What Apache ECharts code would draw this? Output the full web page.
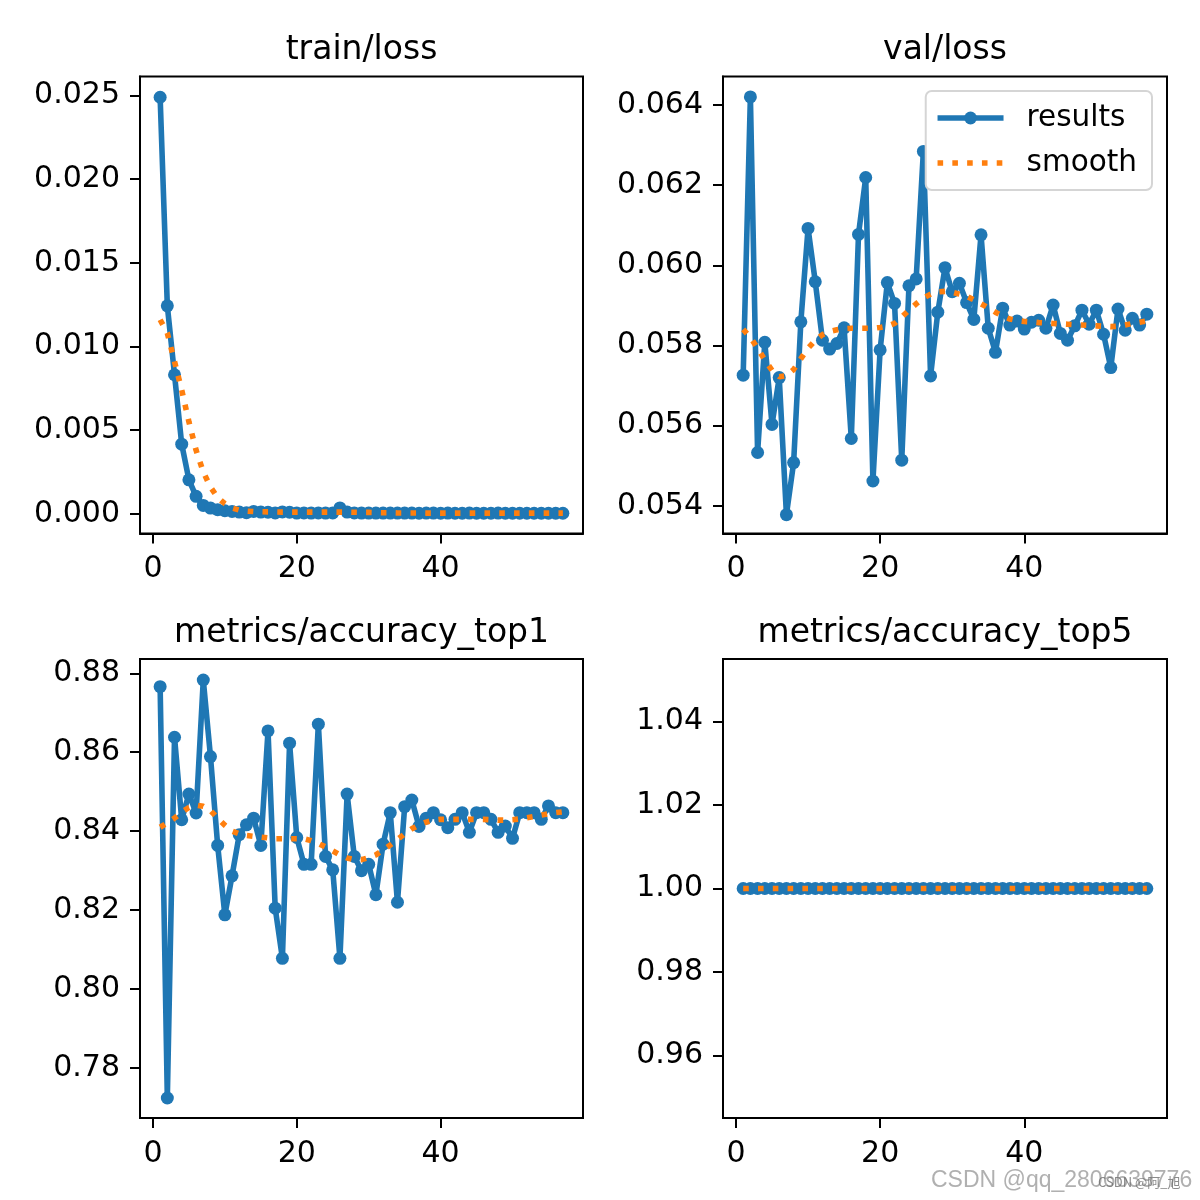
<!DOCTYPE html>
<html>
<head>
<meta charset="utf-8">
<script src="https://cdn.jsdelivr.net/npm/echarts@6/dist/echarts.min.js"></script>
<style>
html,body{margin:0;padding:0;background:#fff;}
#chart{width:1200px;height:1200px;}
</style>
</head>
<body>
<div id="chart"></div>
<script>
// ---------- data ----------
const epochs = [1,2,3,4,5,6,7,8,9,10,11,12,13,14,15,16,17,18,19,20,21,22,23,24,25,26,27,28,29,30,31,32,33,34,35,36,37,38,39,40,41,42,43,44,45,46,47,48,49,50,51,52,53,54,55,56,57];

const trainLoss = [0.0249,0.01243,0.00831,0.00416,0.00203,0.00104,0.0005,0.00034,0.00024,0.00018,0.00014,0.0001,0.00006,0.00014,0.0001,0.00009,0.00005,0.00011,0.00009,0.00004,0.00005,0.00004,0.00005,0.00004,0.00005,0.00035,0.0001,0.00005,0.00004,0.00004,0.00004,0.00004,0.00004,0.00004,0.00004,0.00004,0.00003,0.00004,0.00004,0.00003,0.00004,0.00003,0.00003,0.00004,0.00003,0.00003,0.00003,0.00004,0.00003,0.00003,0.00003,0.00003,0.00003,0.00003,0.00003,0.00003,0.00003];
const trainLossSmooth = [0.0116,0.0108,0.0091,0.0074,0.0055,0.0038,0.0025,0.0016,0.00097,0.0006,0.00034,0.00022,0.00016,0.00013,0.00012,0.00011,0.00011,0.0001,0.0001,0.0001,0.0001,0.0001,0.0001,0.0001,0.0001,0.0001,0.0001,0.00009,0.00008,0.00008,0.00007,0.00006,0.00006,0.00005,0.00005,0.00005,0.00005,0.00004,0.00004,0.00004,0.00004,0.00004,0.00004,0.00004,0.00004,0.00004,0.00004,0.00004,0.00004,0.00004,0.00004,0.00004,0.00004,0.00004,0.00004,0.00004,0.00004];

const valLoss = [0.05726,0.0642,0.05533,0.05808,0.05603,0.0572,0.05378,0.05508,0.05859,0.06092,0.05959,0.05813,0.05791,0.05805,0.05844,0.05568,0.06077,0.06219,0.05462,0.05789,0.05957,0.05905,0.05514,0.05949,0.05966,0.06284,0.05724,0.05883,0.05994,0.05934,0.05955,0.05907,0.05865,0.06076,0.05843,0.05783,0.05893,0.05851,0.05861,0.05841,0.05858,0.05863,0.05843,0.05901,0.0583,0.05813,0.05849,0.05888,0.05853,0.05888,0.05828,0.05745,0.05891,0.05838,0.05868,0.05851,0.05878];
const valLossSmooth = [0.0584,0.0582,0.05793,0.05764,0.05738,0.05722,0.05725,0.0574,0.05767,0.05793,0.05813,0.05827,0.05835,0.05839,0.05842,0.05843,0.05843,0.05843,0.05843,0.05845,0.05848,0.05855,0.05871,0.05888,0.05904,0.05918,0.05928,0.05934,0.05935,0.05933,0.05928,0.05923,0.05914,0.05904,0.05894,0.05883,0.05873,0.05866,0.05862,0.0586,0.05859,0.05857,0.05856,0.05855,0.05854,0.05853,0.05852,0.05851,0.0585,0.05849,0.05848,0.05847,0.05848,0.05851,0.05855,0.05858,0.05861];

const top1 = [0.8766,0.7724,0.8638,0.8429,0.8494,0.8446,0.8783,0.8589,0.8364,0.8188,0.8287,0.8391,0.8416,0.8433,0.8364,0.8654,0.8205,0.8078,0.8623,0.8384,0.8316,0.8316,0.8671,0.8336,0.8302,0.8078,0.8494,0.8336,0.83,0.8316,0.8239,0.8367,0.8447,0.822,0.8462,0.8479,0.8412,0.8433,0.8447,0.8429,0.8409,0.843,0.8447,0.8397,0.8447,0.8447,0.843,0.8397,0.8413,0.8382,0.8447,0.8447,0.8447,0.843,0.8464,0.8447,0.8447];
const top1Smooth = [0.841,0.8421,0.8433,0.8448,0.846,0.8466,0.8463,0.8452,0.8433,0.8415,0.84,0.8393,0.8389,0.8387,0.8385,0.8383,0.8381,0.8381,0.8381,0.8381,0.8381,0.8376,0.8369,0.836,0.835,0.834,0.8332,0.8328,0.8328,0.8333,0.834,0.8352,0.8365,0.8379,0.8393,0.8406,0.8416,0.8423,0.8428,0.843,0.843,0.843,0.843,0.843,0.843,0.843,0.8429,0.8428,0.8428,0.8429,0.8431,0.8434,0.8437,0.8441,0.8444,0.8447,0.8449];

const top5 = [1,1,1,1,1,1,1,1,1,1,1,1,1,1,1,1,1,1,1,1,1,1,1,1,1,1,1,1,1,1,1,1,1,1,1,1,1,1,1,1,1,1,1,1,1,1,1,1,1,1,1,1,1,1,1,1,1];
const top5Smooth = [1,1,1,1,1,1,1,1,1,1,1,1,1,1,1,1,1,1,1,1,1,1,1,1,1,1,1,1,1,1,1,1,1,1,1,1,1,1,1,1,1,1,1,1,1,1,1,1,1,1,1,1,1,1,1,1,1];

const titles = ['train/loss','val/loss','metrics/accuracy_top1','metrics/accuracy_top5'];
const xTicks = [0,20,40];
const yTicksTrain = [0,0.005,0.01,0.015,0.02,0.025];
const yTicksVal = [0.054,0.056,0.058,0.06,0.062,0.064];
const yTicksTop1 = [0.78,0.8,0.82,0.84,0.86,0.88];
const yTicksTop5 = [0.96,0.98,1.0,1.02,1.04];

// ---------- layout ----------
const FONT = 'DejaVu Sans';
const FS = 30;
const TFS = 33;
const BLUE = '#1f77b4', ORANGE = '#ff7f0e';
const DOT = [5.6, 9.2];

const grids = [
  {left:140, top:76.5, width:443, height:457},
  {left:723, top:76.5, width:444, height:457},
  {left:140, top:659, width:443, height:459},
  {left:723, top:659, width:444, height:459}
];
const yRanges = [
  {min:-0.00118, max:0.02614, ticks:yTicksTrain, dec:3},
  {min:0.05331, max:0.06471, ticks:yTicksVal, dec:3},
  {min:0.76734, max:0.88362, ticks:yTicksTop1, dec:2},
  {min:0.945, max:1.055, ticks:yTicksTop5, dec:2}
];
const seriesData = [
  [trainLoss, trainLossSmooth],
  [valLoss, valLossSmooth],
  [top1, top1Smooth],
  [top5, top5Smooth]
];

const pair = arr => epochs.map((e,i)=>[e, arr[i]]);

const option = {
  animation:false,
  backgroundColor:'#ffffff',
  grid: grids.map(g=>Object.assign({show:true, borderColor:'#000', borderWidth:2, backgroundColor:'#fff'}, g)),
  xAxis: grids.map((g,i)=>({
    type:'value', gridIndex:i, min:-1.8, max:59.8,
    axisLine:{show:true, onZero:false, lineStyle:{color:'#000', width:2}},
    axisTick:{show:true, length:10, lineStyle:{color:'#000', width:2}, customValues:xTicks},
    axisLabel:{show:true, margin:21, color:'#000', fontFamily:FONT, fontSize:FS, customValues:xTicks, formatter:v=>String(Math.round(v))},
    splitLine:{show:false}
  })),
  yAxis: yRanges.map((r,i)=>({
    type:'value', gridIndex:i, min:r.min, max:r.max,
    axisLine:{show:true, onZero:false, lineStyle:{color:'#000', width:2}},
    axisTick:{show:true, length:10, lineStyle:{color:'#000', width:2}, customValues:r.ticks},
    axisLabel:{show:true, margin:20, color:'#000', fontFamily:FONT, fontSize:FS, customValues:r.ticks, formatter:v=>Number(v).toFixed(r.dec)},
    splitLine:{show:false}
  })),
  legend:{
    show:true, orient:'vertical',
    data:[
      {name:'results', lineStyle:{width:5.6, color:BLUE}, itemStyle:{color:BLUE}},
      {name:'smooth', lineStyle:{width:5.6, color:ORANGE, type:DOT, cap:'butt'}, itemStyle:{opacity:0}}
    ],
    right:48, top:91, itemWidth:66, itemHeight:16, itemGap:15,
    padding:[12,15,12,9],
    backgroundColor:'#ffffff', borderColor:'#d5d5d5', borderWidth:2, borderRadius:6,
    textStyle:{fontFamily:FONT, fontSize:29.5, color:'#000', padding:[0,0,0,18]},
    selectedMode:false
  },
  series: [],
  graphic: []
};

seriesData.forEach((sd,i)=>{
  option.series.push({
    name:'results', type:'line', xAxisIndex:i, yAxisIndex:i,
    data:pair(sd[0]), symbol:'circle', symbolSize:13, showSymbol:true, showAllSymbol:true,
    itemStyle:{color:BLUE, borderWidth:0},
    lineStyle:{color:BLUE, width:5.6}, z:2, silent:true
  });
  option.series.push({
    name:'smooth', type:'line', xAxisIndex:i, yAxisIndex:i,
    data:pair(sd[1]), symbol:'none', showSymbol:false, smooth:false,
    itemStyle:{color:ORANGE},
    lineStyle:{color:ORANGE, width:5.6, type:DOT, cap:'butt'}, z:3, silent:true
  });
});

grids.forEach((g,i)=>{
  option.graphic.push({
    type:'text', x:g.left + g.width/2, y:g.top - 26,
    style:{text:titles[i], fill:'#000', font:TFS+'px "'+FONT+'"', align:'center', verticalAlign:'middle', textAlign:'center', textVerticalAlign:'middle'}
  });
});

option.graphic.push({
  type:'text', x:931, y:1181,
  style:{text:'CSDN @qq_2806639776', fill:'rgba(150,150,150,0.75)', font:'23px "Liberation Sans"', align:'left', verticalAlign:'middle'}
});
option.graphic.push({
  type:'text', x:1098, y:1182,
  style:{text:'CSDN @阿_旭', fill:'rgba(110,110,110,0.8)', font:'13px "Noto Sans CJK SC"', align:'left', verticalAlign:'middle'}
});

const chart = echarts.init(document.getElementById('chart'), null, {renderer:'canvas', width:1200, height:1200});
chart.setOption(option);
</script>
</body>
</html>
